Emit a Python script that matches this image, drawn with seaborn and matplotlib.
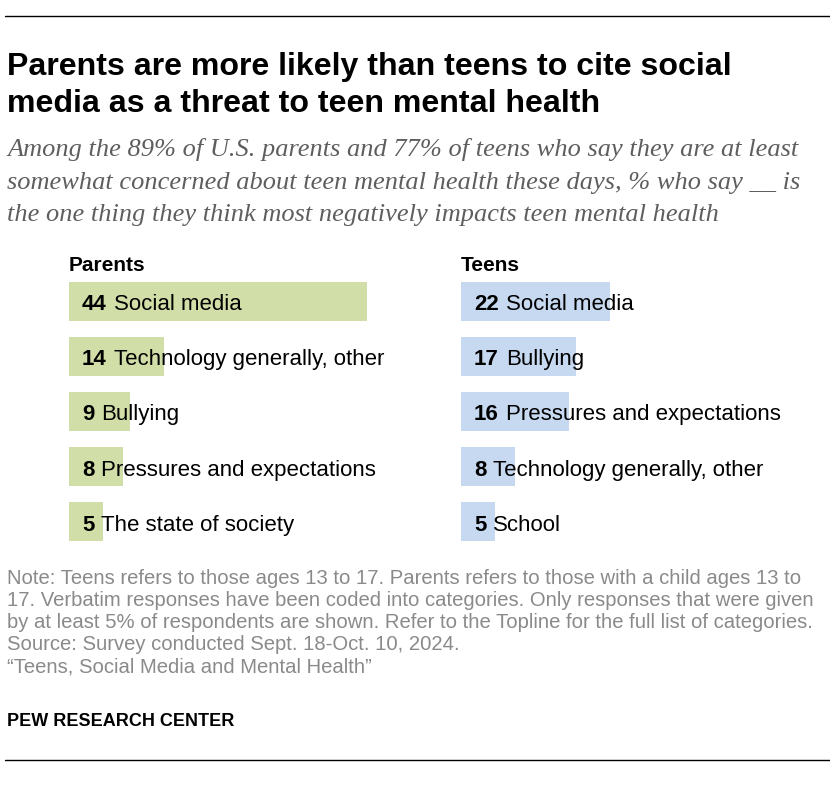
import matplotlib
matplotlib.use("Agg")
import matplotlib.pyplot as plt
import seaborn as sns
import pandas as pd

# ---- data ----
parents_labels = ["Social media", "Technology generally, other", "Bullying",
                  "Pressures and expectations", "The state of society"]
parents_values = [44, 14, 9, 8, 5]
teens_labels = ["Social media", "Bullying", "Pressures and expectations",
                "Technology generally, other", "School"]
teens_values = [22, 17, 16, 8, 5]

title_lines = ["Parents are more likely than teens to cite social",
               "media as a threat to teen mental health"]
subtitle_lines = [
    "Among the 89% of U.S. parents and 77% of teens who say they are at least",
    "somewhat concerned about teen mental health these days, % who say __ is",
    "the one thing they think most negatively impacts teen mental health",
]
note_lines = [
    "Note: Teens refers to those ages 13 to 17. Parents refers to those with a child ages 13 to",
    "17. Verbatim responses have been coded into categories. Only responses that were given",
    "by at least 5% of respondents are shown. Refer to the Topline for the full list of categories.",
    "Source: Survey conducted Sept. 18-Oct. 10, 2024.",
    "\u201cTeens, Social Media and Mental Health\u201d",
]

sns.set_theme(style="white")
plt.rcParams['font.family'] = ['Liberation Sans', 'DejaVu Sans']

W, H = 830, 804
fig = plt.figure(figsize=(W / 100, H / 100), dpi=100)
fig.patch.set_facecolor("white")


def fx(px):
    return px / W


def fy(py):
    return 1 - py / H


# rules
fig.add_artist(plt.Line2D([fx(5), fx(830)], [fy(17), fy(17)], color="black", lw=1.0))
fig.add_artist(plt.Line2D([fx(5), fx(830)], [fy(761), fy(761)], color="black", lw=1.0))

# title
for line, y in zip(title_lines, [75, 112]):
    fig.text(fx(7), fy(y), line, fontsize=23.1, fontweight="bold", color="black",
             va="baseline")

sub_y = [156, 189, 221]
for line, y in zip(subtitle_lines, sub_y):
    fig.text(fx(7), fy(y), line, fontsize=19, style="italic", color="#5e5e5e",
             family=['Liberation Serif', 'DejaVu Serif'], va="baseline")

# bars
scale = 6.77  # px per unit
ax_w_units = 50
row_top = 274.4
row_bottom = 550.6
axes_info = [
    (69, "Parents", parents_labels, parents_values, "#d2dea8"),
    (461, "Teens", teens_labels, teens_values, "#c6d9f0"),
]
for left, name, labels, values, color in axes_info:
    ax = fig.add_axes([fx(left), fy(row_bottom), (ax_w_units * scale) / W,
                       (row_bottom - row_top) / H])
    df = pd.DataFrame({"label": labels, "value": values})
    sns.barplot(data=df, x="value", y="label", orient="h", color=color,
                width=0.706, ax=ax, saturation=1)
    for p in ax.patches:
        p.set_edgecolor("none")
    ax.set_xlim(0, ax_w_units)
    ax.set_ylim(4.5, -0.5)
    ax.axis("off")
    ax.set_facecolor("none")
    fig.text(fx(left), fy(271), name, fontsize=15, fontweight="bold",
             color="black", va="baseline")
    for i, (lab, val) in enumerate(zip(labels, values)):
        t = ax.annotate(str(val), xy=(0, i), xytext=(13 * 0.72, 0),
                        textcoords="offset points", va="center_baseline", ha="left",
                        fontsize=16, fontweight="bold", color="black")
        fig.canvas.draw()
        bb = t.get_window_extent()
        gap = 7
        x0 = ax.transData.transform((0, i))[0]
        ax.annotate(lab, xy=(0, i), xytext=((bb.x1 - x0 + gap) * 0.72, 0),
                    textcoords="offset points", va="center_baseline", ha="left",
                    fontsize=16, color="black")

note_y = [584, 606, 628, 650, 673]
for line, y in zip(note_lines, note_y):
    fig.text(fx(7), fy(y), line, fontsize=14.6, color="#8a8a8a", va="baseline")

fig.text(fx(7), fy(726), "PEW RESEARCH CENTER", fontsize=13, fontweight="bold",
         color="black", va="baseline")

fig.savefig("out.png", dpi=100, facecolor="white")
